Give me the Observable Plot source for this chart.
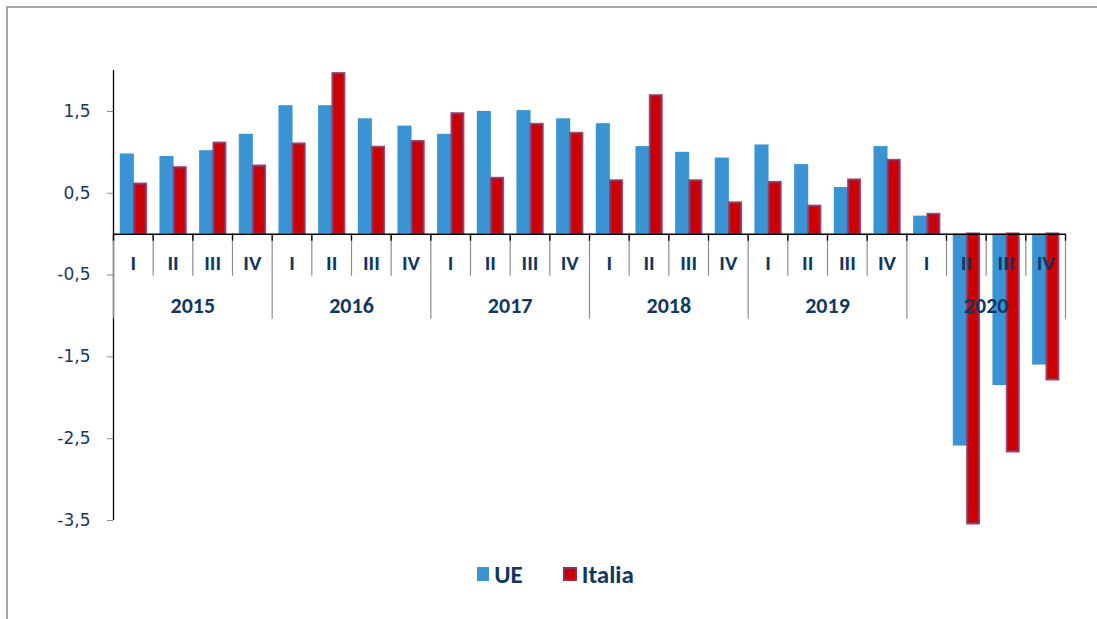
<!DOCTYPE html>
<html>
<head>
<meta charset="utf-8">
<script src="https://cdn.jsdelivr.net/npm/d3@7"></script>
<script src="https://cdn.jsdelivr.net/npm/@observablehq/plot@0.6"></script>
<style>
  html, body { margin: 0; padding: 0; background: #fff; }
  body { width: 1097px; height: 619px; position: relative; overflow: hidden; font-family: Carlito, Lato, "Open Sans", sans-serif; }
  #frame { position: absolute; left: 6px; top: 6px; width: 1091px; height: 613px; border-left: 2px solid #a6a6a6; border-top: 2px solid #a6a6a6; pointer-events: none; box-sizing: border-box; }
  #legend { display: flex; justify-content: center; align-items: center; height: 30px; margin-top: 14px; padding-left: 14px; font-weight: 700; font-size: 25px; color: #0f3763; }
  .item { display: flex; align-items: center; margin: 0 20px; }
  .sw { width: 12px; height: 14px; margin-right: 5px; box-sizing: border-box; }
</style>
</head>
<body>
<div id="chart"></div>
<div id="legend"></div>
<div id="frame"></div>
<script>
const years = ["2015", "2016", "2017", "2018", "2019", "2020"];
const quarters = ["I", "II", "III", "IV"];
const ue = [0.98, 0.95, 1.02, 1.22, 1.57, 1.57, 1.41, 1.32, 1.22, 1.50, 1.51, 1.41,
            1.35, 1.07, 1.00, 0.93, 1.09, 0.85, 0.57, 1.07, 0.22, -2.59, -1.85, -1.60];
const italia = [0.61, 0.81, 1.11, 0.83, 1.10, 1.96, 1.06, 1.13, 1.47, 0.68, 1.34, 1.23,
                0.65, 1.69, 0.65, 0.38, 0.63, 0.34, 0.66, 0.90, 0.24, -3.54, -2.66, -1.78];
const yTicks = [-3.5, -2.5, -1.5, -0.5, 0.5, 1.5];
const seriesNames = ["UE", "Italia"];

const navy = "#0f3763";
const blue = "#3a93d3";
const red = "#cc0000";
const redStroke = "#8e2d5e";

const rows = [];
years.forEach((yr, yi) => quarters.forEach((q, qi) => {
  const i = yi * 4 + qi;
  rows.push({i, year: yr, quarter: q, ue: ue[i], italia: italia[i]});
}));
const yearRows = years.map((yr, yi) => ({year: yr, i: yi * 4}));
const bounds = d3.range(0, 25);

const plotTop = 70, plotBottom = 520;
const unit = (plotBottom - plotTop) / 5.5;   // px per unit on y
const px = p => -p / unit;                    // px below zero -> data units

const chart = Plot.plot({
  width: 1097,
  height: 545,
  marginTop: plotTop,
  marginBottom: 545 - plotBottom,
  marginLeft: 113,
  marginRight: 32,
  x: {type: "linear", domain: [0, 24], axis: null},
  y: {domain: [-3.5, 2]},
  style: {fontFamily: "Carlito, Lato, 'Open Sans', sans-serif", background: "white"},
  marks: [
    Plot.axisY({ticks: yTicks, tickSize: 6, tickPadding: 17, stroke: "#8c8c8c",
      tickFormat: d => d.toFixed(1).replace(".", ","), fontSize: 17, fontFamily: "'DejaVu Sans', Verdana, sans-serif",
      fill: "#17375e", textStroke: "none"}),
    Plot.ruleX([0], {y1: -3.5, y2: 2, stroke: "black", strokeWidth: 1.3}),
    Plot.ruleX(bounds.filter(b => b % 4 !== 0), {x: d => d, y1: 0, y2: px(42), stroke: "#8c8c8c", strokeWidth: 1.2}),
    Plot.ruleX(bounds.filter(b => b % 4 === 0), {x: d => d, y1: 0, y2: px(85), stroke: "#8c8c8c", strokeWidth: 1.2}),
    Plot.ruleX(bounds, {x: d => d, y1: 0, y2: px(7), stroke: "black", strokeWidth: 1.3}),
    Plot.rectY(rows, {x1: "i", x2: d => d.i + 1, y: "ue", fill: blue, insetLeft: 6.8, insetRight: 18.8}),
    Plot.rectY(rows, {x1: "i", x2: d => d.i + 1, y: "italia", fill: red, stroke: redStroke, strokeOpacity: 0.85, strokeWidth: 2.4, insetLeft: 21.3, insetRight: 6.8}),
    Plot.ruleY([0], {x1: 0, x2: 24, stroke: "black", strokeWidth: 1.5}),
    Plot.text(rows, {x: d => d.i + 0.5, y: 0, dy: 29, text: "quarter", fill: navy, fontWeight: 700, fontSize: 21}),
    Plot.text(yearRows, {x: d => d.i + 2, y: 0, dy: 72, text: "year", fill: navy, fontWeight: 700, fontSize: 22})
  ]
});
document.getElementById("chart").appendChild(chart);

const legend = document.getElementById("legend");
const colors = {UE: {fill: blue, stroke: "none"}, Italia: {fill: red, stroke: redStroke}};
seriesNames.forEach(name => {
  const item = document.createElement("div");
  item.className = "item";
  const sw = document.createElement("div");
  sw.className = "sw";
  sw.style.background = colors[name].fill;
  if (colors[name].stroke !== "none") { sw.style.border = "2px solid " + colors[name].stroke; sw.style.width = "14px"; sw.style.height = "14px"; }
  const label = document.createElement("span");
  label.textContent = name;
  item.appendChild(sw);
  item.appendChild(label);
  legend.appendChild(item);
});
</script>
</body>
</html>
